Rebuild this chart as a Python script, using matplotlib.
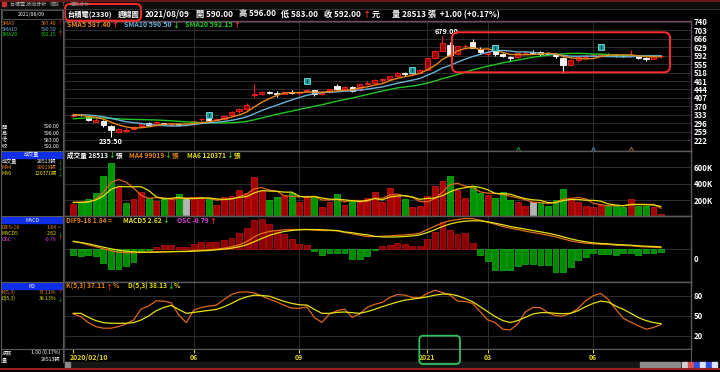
import numpy as np
import pandas as pd
import matplotlib
matplotlib.use("Agg")
import matplotlib.pyplot as plt
import matplotlib.transforms as mtransforms
from matplotlib.patches import FancyBboxPatch, Rectangle

plt.rcParams['font.family'] = ['Noto Sans CJK TC', 'DejaVu Sans']
plt.rcParams['axes.unicode_minus'] = False

W, H = 720, 372

# --- weekly data, 2020/02/10 .. 2021/08/09 ---
# closes / volumes of the weeks before the first drawn week (only used for the MAs)
pre_close = [285, 290, 296, 300, 304, 308, 306, 302, 305, 308,
             316, 324, 331, 339, 335, 345, 341, 324, 330]
pre_vol = [190000, 170000, 150000, 200000, 170000]

week_open = [328, 334, 325, 304, 306, 284, 258, 264, 270, 284,
             297, 287, 297, 290, 294, 289, 292, 313, 316, 312,
             316, 331, 348, 357, 419, 426, 433, 428, 426, 435,
             428, 436, 440, 424, 432, 458, 447, 455, 440, 470,
             474, 486, 490, 505, 514, 511, 515, 530, 582, 612,
             640, 600, 632, 650, 620, 600, 612, 600, 588, 585,
             603, 608, 606, 600, 598, 582, 550, 572, 586, 592,
             596, 600, 596, 596, 590, 592, 580, 579, 590]
week_high = [336, 339, 327, 322, 312, 289, 277, 277, 285, 300,
             302, 306, 299, 298, 297, 296, 310, 320, 318, 320,
             331, 348, 362, 384, 466, 438, 438, 437, 438, 441,
             438, 447, 441, 434, 448, 466, 460, 458, 470, 479,
             488, 492, 505, 520, 522, 518, 532, 582, 616, 679,
             650, 634, 644, 663, 630, 616, 625, 604, 592, 604,
             612, 616, 611, 606, 602, 584, 575, 588, 594, 598,
             604, 603, 600, 600, 615, 596, 586, 595, 596]
week_low = [325, 326, 306, 301, 280, 235.5, 252, 260, 268, 282,
            285, 285, 287, 286, 285, 285, 291, 306, 307, 310,
            314, 330, 343, 351, 410, 419, 424, 412, 425, 425,
            420, 432, 416, 420, 430, 441, 444, 432, 438, 463,
            470, 477, 486, 500, 505, 505, 514, 530, 575, 610,
            590, 595, 620, 625, 600, 590, 592, 585, 570, 583,
            598, 598, 592, 594, 580, 518, 545, 566, 580, 585,
            590, 590, 588, 585, 588, 578, 570, 577, 583]
week_close = [333, 331, 311, 310, 287, 268, 271, 268, 282, 296,
              288, 300, 292, 294, 290, 290, 308, 314, 312, 317,
              329, 346, 358, 378, 425, 432, 428, 426, 433, 430,
              434, 442, 424, 430, 446, 445, 456, 437, 468, 472,
              484, 488, 503, 515, 510, 514, 530, 580, 610, 645,
              595, 632, 634, 627, 606, 608, 598, 590, 583, 602,
              605, 605, 600, 598, 590, 552, 572, 585, 590, 594,
              600, 597, 594, 590, 594, 581, 577, 591, 592]
week_vol = [151000, 180000, 209000, 290000, 495000, 658000, 364000, 160000, 209000, 294000,
            221000, 188000, 209000, 209000, 270000, 209000, 221000, 221000, 221000, 139000,
            233000, 254000, 323000, 282000, 487000, 315000, 200000, 233000, 262000, 282000,
            180000, 250000, 254000, 119000, 180000, 270000, 139000, 188000, 180000, 221000,
            303000, 180000, 344000, 262000, 213000, 119000, 131000, 250000, 372000, 434000,
            495000, 323000, 229000, 364000, 282000, 262000, 221000, 303000, 200000, 180000,
            131000, 180000, 180000, 131000, 200000, 335000, 209000, 180000, 131000, 119000,
            139000, 131000, 131000, 120000, 213000, 130000, 124000, 114000, 28513]

dif = [8.3, 6.7, 4.7, 2.7, 0.7, -1.3, -2.7, -3.3, -3.3, -3.0,
       -2.7, -2.3, -2.3, -2.0, -2.0, -1.7, -1.0, -0.7, -0.3, 0.3,
       1.3, 2.7, 4.7, 7.7, 12.7, 16.0, 18.0, 19.0, 19.7, 20.0,
       20.0, 20.0, 19.3, 19.0, 19.0, 18.7, 17.0, 15.8, 14.3, 13.0,
       12.9, 13.2, 13.6, 14.2, 14.6, 15.2, 16.3, 20.0, 23.3, 26.7,
       28.7, 30.0, 31.0, 30.7, 29.3, 27.3, 25.3, 23.0, 21.3, 20.0,
       18.3, 17.0, 15.7, 14.3, 12.7, 10.7, 8.7, 7.3, 6.3, 5.7,
       5.3, 5.0, 4.3, 4.0, 3.7, 3.0, 2.6, 2.2, 1.84]
macd_sig = [8.0, 7.0, 5.7, 4.0, 2.3, 0.7, -0.7, -1.7, -2.3, -2.7,
            -2.7, -2.7, -2.3, -2.3, -2.0, -2.0, -1.7, -1.3, -1.0, -0.3,
            0.3, 1.3, 2.7, 4.7, 7.7, 11.0, 14.0, 16.3, 18.0, 19.0,
            19.7, 20.0, 20.0, 19.7, 19.3, 19.0, 17.6, 16.8, 15.6, 14.7,
            13.2, 12.6, 12.5, 12.6, 13.0, 13.6, 14.6, 17.0, 19.8, 23.0,
            25.5, 27.3, 28.3, 28.7, 28.7, 27.7, 26.3, 24.7, 23.0, 21.7,
            20.3, 19.0, 17.7, 16.3, 14.7, 12.7, 10.7, 9.0, 7.7, 6.7,
            6.0, 5.7, 5.0, 4.7, 4.3, 3.7, 3.3, 3.0, 2.62]
osc = [-1.50, -1.76, -1.58, -1.76, -3.68, -5.26, -5.08, -4.39, -3.34, -0.53,
       -0.18, 0.71, 1.05, 1.05, 0.71, 0.60, 1.32, 2.03, 2.03, 2.03,
       2.45, 3.08, 4.21, 5.71, 7.71, 7.89, 6.58, 5.08, 3.95, 2.63,
       1.32, 1.05, -0.45, -1.50, -1.05, -0.97, -1.05, -2.37, -2.37, -1.66,
       -0.13, 0.87, 1.05, 1.76, 1.39, 0.87, 0.87, 2.63, 4.66, 7.29,
       5.08, 4.02, 4.21, 1.76, -1.50, -2.97, -5.44, -5.44, -5.44, -4.39,
       -3.87, -3.87, -4.13, -4.13, -5.86, -5.86, -4.55, -2.81, -1.92, -0.87,
       -1.24, -1.24, -1.50, -1.05, -0.87, -1.50, -1.05, -1.05, -0.79]
k_line = [52.7, 48.7, 39.7, 33.7, 31.3, 31.3, 33.7, 37.7, 43.7, 60.1,
          64.6, 72.6, 72.0, 69.6, 51.2, 39.7, 58.6, 62.6, 64.6, 66.1,
          74.5, 82.0, 85.5, 86.0, 84.5, 80.0, 75.0, 71.0, 65.6, 61.6,
          61.1, 63.6, 47.2, 40.2, 52.7, 57.6, 60.0, 47.5, 52.7, 62.7,
          67.2, 70.1, 77.6, 82.1, 81.1, 77.6, 77.1, 83.6, 88.5, 85.1,
          81.1, 72.1, 71.6, 68.6, 56.2, 43.8, 39.8, 29.8, 28.8, 37.8,
          55.7, 62.7, 62.2, 54.7, 50.2, 49.7, 53.7, 61.2, 72.6, 80.1,
          83.6, 74.6, 59.7, 46.3, 40.3, 34.8, 29.8, 32.3, 37.11]
d_line = [53.7, 53.7, 47.7, 42.7, 39.7, 38.7, 38.7, 38.7, 39.7, 43.7,
          49.7, 57.6, 62.6, 65.6, 59.6, 53.7, 55.1, 56.6, 58.1, 59.6,
          63.6, 68.6, 74.5, 78.5, 81.0, 80.5, 79.5, 75.5, 71.6, 68.6,
          66.6, 66.1, 59.6, 53.7, 53.7, 55.1, 55.7, 54.7, 53.7, 56.2,
          59.7, 63.7, 67.2, 70.6, 73.6, 75.1, 76.6, 78.6, 81.1, 82.6,
          82.6, 80.1, 76.1, 71.1, 63.7, 56.2, 48.7, 42.8, 39.8, 42.8,
          47.7, 52.7, 54.7, 54.7, 53.7, 53.2, 53.7, 57.7, 63.7, 68.6,
          72.1, 70.6, 64.7, 59.7, 53.7, 47.3, 42.8, 39.8, 38.13]

date_ticks = [0, 16, 30, 47, 55, 69]
date_labels = ['2020/02/10', '06', '09', '2021', '03', '06']
price_ticks = [222, 259, 296, 333, 370, 407, 444, 481, 518, 555, 592, 629, 666, 703, 740]
vol_ticks = [200000, 400000, 600000]
vol_tick_labels = ['200K', '400K', '600K']
kd_ticks = [20, 50, 80]
signal_weeks = [18, 31, 45, 56, 70]
signal_price = [333, 481, 529, 625, 630]
event_weeks = [59, 69, 74]
event_colors = ['#1e9a3a', '#3a8ab0', '#b0602a']

n = len(week_close)
wk = np.arange(n)
o = np.array(week_open, float)
hi = np.array(week_high, float)
lo = np.array(week_low, float)
c = np.array(week_close, float)

closes_all = pd.Series(pre_close + week_close, dtype=float)
sma5 = closes_all.rolling(5).mean().values[-n:]
sma10 = closes_all.rolling(10).mean().values[-n:]
sma20 = closes_all.rolling(20).mean().values[-n:]
vol_all = pd.Series(pre_vol + week_vol, dtype=float)
vma4 = vol_all.rolling(4).mean().values[-n:]
vma6 = vol_all.rolling(6).mean().values[-n:]

ORANGE = '#e8861a'
BLUE = '#6ab4d8'
GREEN = '#1ec81e'
YELLOW = '#e6e010'
RED_T = '#ff3030'
GRN_T = '#20d020'
MAG = '#e040e0'
DATEY = '#e0d020'

XL = (-1.23, 81.98)
grid_weeks = date_ticks[1:]

fig = plt.figure(figsize=(7.2, 3.72), dpi=100, facecolor='black')
renderer = fig.canvas.get_renderer()


def panel(y0, y1, spine='#5a5a5a'):
    ax = fig.add_axes([64 / W, 1 - y1 / H, 627 / W, (y1 - y0) / H], facecolor='black')
    ax.set_xlim(*XL)
    ax.set_xticks(grid_weeks)
    ax.tick_params(axis='x', length=0, labelbottom=False)
    ax.tick_params(axis='y', length=0, labelsize=5.6, labelcolor='white', pad=2,
                   left=False, right=True, labelleft=False, labelright=True)
    ax.grid(True, color='#2e2e2e', lw=0.7)
    ax.set_axisbelow(True)
    for s in ax.spines.values():
        s.set_color(spine)
        s.set_linewidth(1.0)
    return ax


def bold_labels(ax):
    for lbl in ax.get_yticklabels():
        lbl.set_fontweight('bold')


# ---- price panel ----
ax_p = panel(20.7, 150.7, spine='#6e4a62')
ax_p.set_ylim(176.6, 744.4)
ax_p.set_yticks(price_ticks)
bold_labels(ax_p)
up = c >= o
face = np.where(up, '#a00000', '#f4f4f4')
edge = np.where(up, '#ff2020', '#ffffff')
ax_p.vlines(wk, lo, hi, colors=edge, lw=0.8, zorder=2)
ax_p.bar(wk, np.maximum(np.abs(c - o), 0.8), bottom=np.minimum(o, c), width=0.68,
         color=face, edgecolor=edge, lw=0.6, zorder=3)
ax_p.plot(wk, sma20, color=GREEN, lw=1.0, zorder=4)
ax_p.plot(wk, sma10, color=BLUE, lw=1.0, zorder=4)
ax_p.plot(wk, sma5, color=ORANGE, lw=1.0, zorder=5)
ax_p.plot(signal_weeks, signal_price, 's', ms=4.2, mfc='#13a3a3', mec='#90ffff', mew=0.5, zorder=6)
ax_p.plot(signal_weeks, signal_price, '|', ms=2.2, color='#063a3a', mew=0.8, zorder=7)
for ew, ec in zip(event_weeks, event_colors):
    ax_p.plot(ew, 186, '^', ms=3.2, mfc='none', mec=ec, mew=0.7, zorder=6)
ipk = int(np.argmax(hi))
ax_p.text(ipk + 0.6, hi[ipk] + 3, f'{hi[ipk]:.2f}', color='white', fontsize=5.2,
          fontweight='bold', ha='center', va='bottom', zorder=8)
ilo = int(np.argmin(lo))
ax_p.text(ilo, lo[ilo] - 2, f'{lo[ilo]:.2f}', color='white', fontsize=5.2,
          fontweight='bold', ha='center', va='top', zorder=8)

# ---- volume panel ----
ax_v = panel(150.7, 216.3)
ax_v.set_ylim(0, 805000)
ax_v.set_yticks(vol_ticks)
ax_v.set_yticklabels(vol_tick_labels)
bold_labels(ax_v)
prev_close = np.array([pre_close[-1]] + week_close[:-1], float)
vcol = np.where(c > prev_close, '#a80000', np.where(c < prev_close, '#009400', '#b4b4b4'))
vedge = np.where(c > prev_close, '#d81818', np.where(c < prev_close, '#10c010', '#d0d0d0'))
ax_v.bar(wk, week_vol, width=0.78, color=vcol, edgecolor=vedge, lw=0.5, zorder=2)
ax_v.plot(wk, vma4, color='#e0641a', lw=0.9, zorder=3)
ax_v.plot(wk, vma6, color=YELLOW, lw=0.9, zorder=3)

# ---- MACD panel ----
ax_m = panel(216.3, 282.3)
ax_m.set_ylim(-8.63, 8.73)
ax_m.set_yticks([0])
ax_m.tick_params(axis='y', labelright=False)
osc_a = np.array(osc)
ax_m.bar(wk, osc_a, width=0.78, color=np.where(osc_a > 0, '#8c0000', '#008a00'),
         edgecolor=np.where(osc_a > 0, '#c41010', '#10b810'), lw=0.5, zorder=2)
ax_l = ax_m.twinx()
ax_l.set_ylim(-32.8, 33.2)
ax_l.set_yticks([])
for s in ax_l.spines.values():
    s.set_color('#5a5a5a')
ax_l.plot(wk, dif, color='#e0701a', lw=0.9)
ax_l.plot(wk, macd_sig, color=YELLOW, lw=0.9)
zero_tr = mtransforms.offset_copy(mtransforms.blended_transform_factory(ax_l.transAxes, ax_l.transData),
                                  fig=fig, x=2, y=-7, units='points')
ax_l.text(1.0, 0, '0', transform=zero_tr, color='white', fontsize=5.6, fontweight='bold',
          ha='left', va='center')

# ---- KD panel ----
ax_k = panel(282.3, 349.0)
ax_k.set_ylim(0, 100.4)
ax_k.set_yticks(kd_ticks)
bold_labels(ax_k)
ax_k.plot(wk, k_line, color='#e0661a', lw=0.9)
ax_k.plot(wk, d_line, color=YELLOW, lw=0.9)

# ---- date strip ----
ax_d = fig.add_axes([64 / W, 1 - 362 / H, 627 / W, 13 / H], facecolor='black')
ax_d.set_xlim(*XL)
ax_d.set_ylim(0, 1)
ax_d.set_xticks([])
ax_d.set_yticks([])
for s in ax_d.spines.values():
    s.set_color('#5a5a5a')
ax_d.vlines(date_ticks, 0.72, 1.0, colors=DATEY, lw=0.8)
for i, (x, lab) in enumerate(zip(date_ticks, date_labels)):
    ax_d.text(x - (0.45 if i == 0 else 0), 0.33, lab, color=DATEY, fontsize=5.0, fontweight='bold',
              ha='left' if i == 0 else 'center', va='center')

# ---- overlay: header, left info panel, boxes ----
ov = fig.add_axes([0, 0, 1, 1], zorder=20)
ov.set_xlim(0, W)
ov.set_ylim(H, 0)
ov.axis('off')
ov.patch.set_alpha(0)


def t(x, y, s, col='white', size=5.2, ha='left', weight='bold'):
    ov.text(x, y, s, color=col, fontsize=size, ha=ha, va='center', fontweight=weight)


def seq(x, y, parts, size=4.8, weight='bold'):
    # coloured pieces written one after the other
    for s, col in parts:
        txt = ov.text(x, y, s, color=col, fontsize=size, ha='left', va='center', fontweight=weight)
        x += txt.get_window_extent(renderer=renderer).width + 0.3
    return x


# top tab strip
ov.add_patch(Rectangle((0, 0), W, 8.5, color='#0e0e0e', zorder=0))
ov.plot([0, W], [0.6, 0.6], color='#7a1a1a', lw=1.2)
ov.plot([0, W], [8.5, 8.5], color='#3a3a3a', lw=0.6)
ov.add_patch(Rectangle((2, 2), 4, 4, color='#c03030'))
t(10, 4.3, '台積電 技術分析', '#b0b0b0', 3.6, weight='normal')
t(50, 4.3, '個股', '#909090', 3.6, weight='normal')
t(62, 4.3, '7', '#909090', 3.6, weight='normal')
t(70, 4.3, '個股分析', '#909090', 3.6, weight='normal')

# header row
seq(67, 14.5, [('台積電(2330)', 'white')], size=5.2)
seq(118, 14.5, [('週線圖', 'white')], size=5.2)
HS = 5.9
seq(145, 14.5, [('2021/08/09', 'white')], size=HS)
seq(196, 14.5, [('開 590.00', 'white')], size=HS)
seq(239, 14.5, [('高 596.00', 'white')], size=HS)
seq(281, 14.5, [('低 583.00', 'white')], size=HS)
seq(324, 14.5, [('收 592.00 ', 'white'), ('↑', RED_T), ('元', 'white')], size=HS)
seq(392, 14.5, [('量 28513 張  +1.00 (+0.17%)', 'white')], size=HS)

# panel legends
seq(67, 24.7, [('SMA5 587.40', ORANGE), ('↑', RED_T)], size=5.0)
seq(124, 24.7, [('SMA10 590.50', BLUE), ('↓', GRN_T)], size=5.0)
seq(185, 24.7, [('SMA20 592.15', GREEN), ('↑', RED_T)], size=5.0)

seq(67, 155.5, [('成交量 28513', 'white'), ('↓', GRN_T), ('張', 'white')])
seq(129, 155.5, [('MA4 99019', ORANGE), ('↓', GRN_T), ('張', ORANGE)])
seq(187, 155.5, [('MA6 120371', YELLOW), ('↓', GRN_T), ('張', YELLOW)])

seq(66, 220.7, [('DIF9-18 1.84 =', ORANGE)])
seq(123, 220.7, [('MACD5 2.62', YELLOW), ('↓', GRN_T)])
seq(177, 220.7, [('OSC -0.79', MAG), ('↑', RED_T)])

seq(66, 286, [('K(5,3) 37.11', ORANGE), ('↑', RED_T), ('%', ORANGE)])
seq(128, 286, [('D(5,3) 38.13', YELLOW), ('↓', GRN_T), ('%', YELLOW)])

# left info panel frame
LG = '#5a5a5a'
ov.plot([62.5, 62.5], [8.5, 362], color=LG, lw=0.8)
ov.plot([64.2, 64.2], [8.5, 362], color='#3c3c3c', lw=0.6)
ov.plot([0.5, 0.5], [8.5, 362], color=LG, lw=0.8)
ov.add_patch(Rectangle((1.5, 9.5), 60, 9.5, fill=False, ec=LG, lw=0.6))
for yy in [150.5, 216.3, 282.3, 349.0]:
    ov.plot([0.5, 62.5], [yy, yy], color=LG, lw=0.8)

LS = 3.7
t(31.5, 14.3, '2021/08/09', 'white', LS, 'center', 'normal')
for y, lab, val, col, arr, acol in [(23.3, 'SMA5', '587.40', ORANGE, '↑', RED_T),
                                    (29.3, 'SMA10', '590.50', BLUE, '↓', GRN_T),
                                    (35.0, 'SMA20', '592.15', GREEN, '↑', RED_T)]:
    t(2, y, lab, col, LS, weight='normal')
    t(56.5, y, val, col, LS, 'right', 'normal')
    t(57.5, y, arr, acol, LS, weight='normal')
for y, lab, val in [(127.0, '開', '590.00'), (133.5, '高', '596.00'),
                    (140.0, '低', '583.00'), (146.5, '收', '592.00')]:
    t(2, y, lab, 'white', LS, weight='normal')
    t(60, y, val, 'white', LS, 'right', 'normal')

BAR = '#0f2ee8'
for y0, lab in [(151.7, '成交量'), (217.3, 'MACD'), (283.3, 'KD')]:
    ov.add_patch(Rectangle((2, y0), 60, 5.8, color=BAR))
    t(32, y0 + 2.9, lab, '#f0f0f0', LS, 'center', 'normal')

for y, lab, val, col, arr, acol in [(161.3, '成交量', '28513張', 'white', '↓', GRN_T),
                                    (167.3, 'MA4', '99019張', ORANGE, '↓', GRN_T),
                                    (173.3, 'MA6', '120371張', YELLOW, '↓', GRN_T),
                                    (227.3, 'DIF9-18', '1.84', ORANGE, '=', ORANGE),
                                    (233.3, 'MACD5', '2.62', YELLOW, '↓', GRN_T),
                                    (239.3, 'OSC', '-0.79', MAG, '↑', RED_T),
                                    (292.7, 'K(5,3)', '37.11%', ORANGE, '↑', RED_T),
                                    (298.7, 'D(5,3)', '38.13%', YELLOW, '↓', GRN_T)]:
    t(2, y, lab, col, LS, weight='normal')
    t(56.5, y, val, col, LS, 'right', 'normal')
    t(57.5, y, arr, acol, LS, weight='normal')

t(2, 352.5, '漲跌', 'white', LS, weight='normal')
t(60, 352.5, '1.00 (0.17%)', 'white', LS, 'right', 'normal')
t(2, 359.3, '量', 'white', LS, weight='normal')
t(60, 359.3, '28513張', 'white', LS, 'right', 'normal')

# bottom scroll strip
ov.add_patch(Rectangle((64, 362), 627, 5, color='#161616'))
ov.add_patch(Rectangle((65, 362.3), 5, 4.5, color='#8a8a8a'))
ov.add_patch(Rectangle((640, 362.3), 40, 4.5, color='#8c8c8c'))
for xx, cc in [(682, '#d0d0d0'), (688, '#e05050'), (694, '#3050e0'), (700, '#e0e0ff'),
               (706, '#3050e0'), (712, '#e0e0ff')]:
    ov.add_patch(Rectangle((xx, 362.3), 5, 4.5, color=cc))
ov.plot([0, W], [369.2, 369.2], color='#b02020', lw=1.3)

# highlight boxes
ov.add_patch(FancyBboxPatch((65, 4), 76, 16.7, boxstyle='round,pad=0,rounding_size=5',
                            fill=False, ec='#ff2a2a', lw=1.4))
ov.add_patch(FancyBboxPatch((452, 32.3), 218, 40, boxstyle='round,pad=0,rounding_size=6',
                            fill=False, ec='#ff2a2a', lw=1.4))
ov.add_patch(FancyBboxPatch((419.3, 335.7), 40.7, 28.3, boxstyle='round,pad=0,rounding_size=4',
                            fill=False, ec='#2ec060', lw=1.3))

fig.savefig('out.png', dpi=100, facecolor='black')
